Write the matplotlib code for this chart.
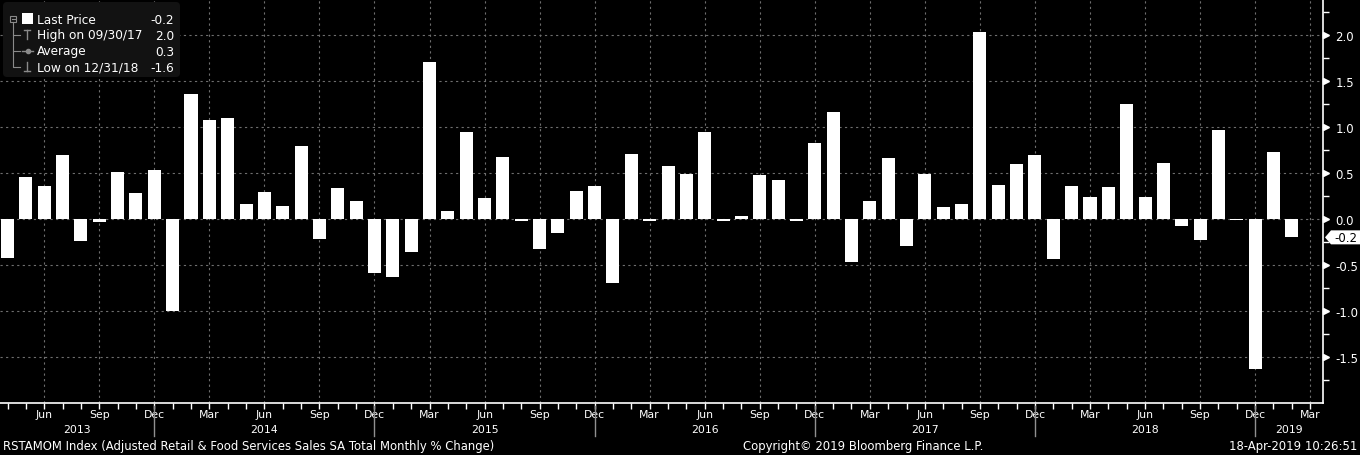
import numpy as np
import pandas as pd
import matplotlib
matplotlib.use('Agg')
import matplotlib.pyplot as plt
import matplotlib.transforms as mtransforms
from matplotlib.patches import FancyBboxPatch, Polygon, Rectangle

# monthly % change, Apr 2013 .. Feb 2019
start_month = '2013-04'
values = [
    -0.42, 0.46, 0.36, 0.69, -0.24, -0.03, 0.51, 0.28, 0.53,                # 2013
    -1.00, 1.36, 1.08, 1.10, 0.16, 0.29, 0.14, 0.79, -0.22, 0.34, 0.20, -0.59,  # 2014
    -0.63, -0.36, 1.71, 0.09, 0.95, 0.23, 0.67, -0.02, -0.33, -0.15, 0.30, 0.36,  # 2015
    -0.70, 0.71, -0.02, 0.57, 0.49, 0.95, -0.02, 0.03, 0.48, 0.42, -0.02, 0.82,  # 2016
    1.16, -0.47, 0.19, 0.66, -0.29, 0.49, 0.13, 0.16, 2.03, 0.37, 0.60, 0.70,  # 2017
    -0.43, 0.36, 0.24, 0.35, 1.25, 0.24, 0.61, -0.08, -0.23, 0.97, -0.01, -1.63,  # 2018
    0.73, -0.20,                                                              # 2019
]
y_ticks = [-1.5, -1.0, -0.5, 0.0, 0.5, 1.0, 1.5, 2.0]
last_price = -0.2
legend_rows = ['Last Price', 'High on 09/30/17', 'Average', 'Low on 12/31/18']
legend_vals = ['-0.2', '2.0', '0.3', '-1.6']
title = 'RSTAMOM Index (Adjusted Retail & Food Services Sales SA Total Monthly % Change)'
copyright_text = 'Copyright\u00a9 2019 Bloomberg Finance L.P.'
stamp = '18-Apr-2019 10:26:51'

plt.rcParams['axes.unicode_minus'] = False
plt.rcParams['font.family'] = ['DejaVu Sans']

W, H = 1360, 456
n_slots = len(values) + 1
months = pd.period_range(start_month, periods=n_slots, freq='M')
x = np.arange(len(values))
x0, x1 = -0.41, 71.7
y0, y1 = -2.0, 2.39

fig = plt.figure(figsize=(W / 100, H / 100), dpi=100, facecolor='black')
ax = fig.add_axes([0, 52 / H, 1323 / W, 404 / H])
ax.set_facecolor('black')
ax.bar(x, values, width=0.71, color='white', zorder=3)
ax.set_xlim(x0, x1)
ax.set_ylim(y0, y1)
ax.set_axisbelow(True)

for s in ['top', 'left']:
    ax.spines[s].set_visible(False)
for s in ['bottom', 'right']:
    ax.spines[s].set_color('white')
    ax.spines[s].set_linewidth(1.2)

# x axis: quarter months labelled, monthly minor ticks
q_idx = [i for i in range(n_slots) if months[i].month % 3 == 0]
ax.set_xticks(q_idx)
ax.set_xticklabels([months[i].strftime('%b') for i in q_idx])
ax.set_xticks(np.arange(n_slots), minor=True)
ax.tick_params(axis='x', which='both', direction='out', length=4, width=1,
               color='white', labelcolor='white', labelsize=7.8, pad=0.5)

# y axis on the right
ax.yaxis.tick_right()
ax.set_yticks(y_ticks)
ax.set_yticklabels([f'{v:.1f}' for v in y_ticks])
ax.set_yticks(np.arange(-1.75, 2.3, 0.5), minor=True)
ax.tick_params(axis='y', which='major', length=0, labelcolor='white', labelsize=8.5, pad=9)
ax.tick_params(axis='y', which='minor', direction='out', length=4, width=1, color='white')

ax.grid(True, which='major', color='#6e6e6e', linestyle=(0, (2, 3)), linewidth=0.8)

trans_r = mtransforms.blended_transform_factory(ax.transAxes, ax.transData)
ax.plot(np.full(len(y_ticks), 1 + 3 / 1323), y_ticks, linestyle='none', marker='>',
        markersize=5, color='white', transform=trans_r, clip_on=False, zorder=5)

# last price tag
ppu = 404 / (y1 - y0)
hh = 7 / ppu
tag = Polygon([(1 + 2 / 1323, last_price), (1 + 8 / 1323, last_price + hh),
               (1 + 40 / 1323, last_price + hh), (1 + 40 / 1323, last_price - hh),
               (1 + 8 / 1323, last_price - hh)], closed=True, facecolor='white',
              edgecolor='none', transform=trans_r, clip_on=False, zorder=6)
ax.add_patch(tag)
ax.text(1 + 11 / 1323, last_price, f'{last_price:.1f}', color='black', fontsize=8.5,
        va='center', ha='left', transform=trans_r, zorder=7)

# year separators and year labels
trans_b = mtransforms.blended_transform_factory(ax.transData, ax.transAxes)
dec_idx = [i for i in range(n_slots) if months[i].month == 12]
for d in dec_idx:
    ax.plot([d, d], [-3 / 404, -33 / 404], color='#909090', linewidth=1,
            transform=trans_b, clip_on=False)
bounds = [x0] + dec_idx + [x1]
years = sorted(set(m.year for m in months))
for yr, a, b in zip(years, bounds[:-1], bounds[1:]):
    ax.text((a + b) / 2, -26 / 404, str(yr), color='white', fontsize=7.8,
            ha='center', va='center', transform=trans_b)

# overlay in pixel coordinates for legend and footer
ov = fig.add_axes([0, 0, 1, 1], facecolor='none')
ov.set_xlim(0, W)
ov.set_ylim(H, 0)
ov.axis('off')

ov.add_patch(FancyBboxPatch((3, 3), 177, 75, boxstyle='round,pad=0,rounding_size=4',
                            facecolor='#121212', edgecolor='none'))
tree = '#8a8a8a'
ov.add_patch(Rectangle((10, 16.5), 6, 6, facecolor='none', edgecolor=tree, linewidth=0.8))
ov.plot([11.5, 14.5], [19.5, 19.5], color=tree, linewidth=0.8)
ov.add_patch(Rectangle((22, 14), 11, 11, facecolor='white', edgecolor='none'))
ov.plot([13, 13, 20], [23, 68, 68], color=tree, linewidth=0.8)
ov.plot([13, 20], [36, 36], color=tree, linewidth=0.8)
ov.plot([13, 20], [52, 52], color=tree, linewidth=0.8)
# high / average / low symbols
ov.plot([24, 30], [31, 31], color=tree, linewidth=1)
ov.plot([27, 27], [31, 40], color=tree, linewidth=1)
ov.plot([22, 33], [52, 52], color=tree, linewidth=1)
ov.plot([27.5], [52], marker='o', markersize=3, color=tree)
ov.plot([27, 27], [63, 72], color=tree, linewidth=1)
ov.plot([24, 30], [72, 72], color=tree, linewidth=1)
for i, (lab, val) in enumerate(zip(legend_rows, legend_vals)):
    yy = 20 + 16 * i
    ov.text(37, yy, lab, color='white', fontsize=8.7, va='center', ha='left')
    ov.text(174, yy, val, color='white', fontsize=8.7, va='center', ha='right')

ov.text(3, 447, title, color='white', fontsize=8.4, va='center', ha='left')
ov.text(863, 447, copyright_text, color='white', fontsize=8.4, va='center', ha='center')
ov.text(1357, 447, stamp, color='white', fontsize=8.4, va='center', ha='right')

fig.savefig('out.png', dpi=100, facecolor='black')
